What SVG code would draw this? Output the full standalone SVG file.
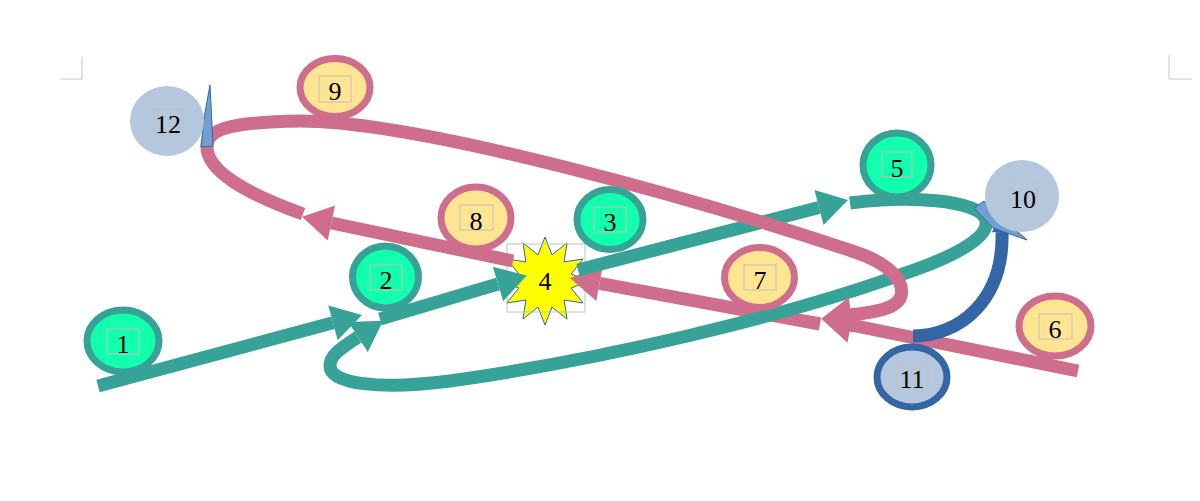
<svg xmlns="http://www.w3.org/2000/svg" width="1200" height="501" viewBox="0 0 1200 501">
<style>
.corner{fill:none;stroke:#c6c6c6;stroke-width:1}
.gn{fill:#12ffae;stroke:#37a398;stroke-width:7}
.yn{fill:#ffe591;stroke:#cf6e8c;stroke-width:7}
.bn{fill:#b4c7dc;stroke:#3465a4;stroke-width:7}
.bn0{fill:#b4c7dc;stroke:none}
.lb{fill:none;stroke:#c0c0c0;stroke-width:1}
.tx{font-family:"Liberation Serif","DejaVu Serif",serif;font-size:26px;fill:#000;text-anchor:middle}
.tc{fill:none;stroke:#37a398;stroke-width:13;marker-end:url(#at)}
.pc{fill:none;stroke:#cf6e8c;stroke-width:13;marker-end:url(#ap)}
.bc{fill:none;stroke:#3465a4;stroke-width:13;marker-end:url(#ab)}
.wedge{fill:#729fcf;stroke:#3465a4;stroke-width:1}
</style>
<defs>
<marker id="at" markerUnits="userSpaceOnUse" orient="auto" refX="0" refY="0" markerWidth="40" markerHeight="40" overflow="visible"><path d="M0,-18 L30,0 L0,18 z" fill="#37a398"/></marker>
<marker id="ap" markerUnits="userSpaceOnUse" orient="auto" refX="0" refY="0" markerWidth="40" markerHeight="40" overflow="visible"><path d="M0,-18 L30,0 L0,18 z" fill="#cf6e8c"/></marker>
<marker id="ab" markerUnits="userSpaceOnUse" orient="auto" refX="0" refY="0" markerWidth="30" markerHeight="30" overflow="visible"><path d="M0,-10 L22,0 L0,10 z" fill="#3465a4"/></marker>
</defs>
<rect width="1200" height="501" fill="#fff"/>
<path class="corner" d="M82,57 V79 H60"/>
<path class="corner" d="M1169,55 V79 H1192"/>

<g id="n4">
<polygon points="545,237 552,254.9 567,242.9 564.1,261.9 583.1,259 571.1,274 589,281 571.1,288 583.1,303 564.1,300.1 567,319.1 552,307.1 545,325 538,307.1 523,319.1 525.9,300.1 506.9,303 518.9,288 501,281 518.9,274 506.9,259 525.9,261.9 523,242.9 538,254.9" fill="#ffff00" stroke="#3465a4" stroke-width="1"/>
<rect class="lb" x="507" y="244" width="78" height="68"/>
<text class="tx" x="545" y="290">4</text>
</g>

<g id="connectors">
<path class="pc" d="M1078,371 L851,325"/>
<path class="pc" d="M820,324 L599.5,283.4"/>
<path class="pc" d="M513,261 L331.4,223"/>
<path class="tc" d="M98,386 L333,322.8"/>
<path class="tc" d="M380,319 L498,284"/>
<path class="tc" d="M578,270 L819,207.5"/>
<path class="tc" d="M850,203 C910,195 975,200 985,218 C993,235 960,255 900,275 C780,318 600,360 450,381 C380,390 330,384 330,366 C330,356 338,350 358,337"/>
<path class="pc" d="M303,214 C245,193 205,170 207,145 C208,128 235,122 300,121 C420,121 700,200 855,252 C888,263 905,280 901,296 C897,309 875,312 851,315"/>
<path class="bc" d="M913,336 C960,336 1004,300 1002,232"/>
</g>

<g id="n1"><ellipse class="gn" cx="123" cy="341" rx="36" ry="31"/><rect class="lb" x="107" y="329" width="32" height="25"/><text class="tx" x="123" y="353">1</text></g>
<g id="n2"><ellipse class="gn" cx="385.5" cy="277" rx="33" ry="31"/><rect class="lb" x="370" y="265" width="32" height="25"/><text class="tx" x="386" y="289">2</text></g>
<g id="n3"><ellipse class="gn" cx="610" cy="219.5" rx="33" ry="30"/><rect class="lb" x="594" y="207" width="32" height="25"/><text class="tx" x="610" y="231">3</text></g>
<g id="n5"><ellipse class="gn" cx="897" cy="165" rx="34" ry="32"/><rect class="lb" x="882" y="152" width="30" height="25"/><text class="tx" x="897" y="177">5</text></g>
<g id="n6"><ellipse class="yn" cx="1055" cy="326" rx="36" ry="30"/><rect class="lb" x="1039" y="314" width="33" height="25"/><text class="tx" x="1055" y="338">6</text></g>
<g id="n7"><ellipse class="yn" cx="759.5" cy="277.5" rx="35" ry="30"/><rect class="lb" x="744" y="265" width="32" height="25"/><text class="tx" x="760" y="289">7</text></g>
<g id="n8"><ellipse class="yn" cx="476" cy="218" rx="35" ry="31"/><rect class="lb" x="460" y="205" width="33" height="25"/><text class="tx" x="476" y="230">8</text></g>
<g id="n9"><ellipse class="yn" cx="335" cy="87.5" rx="35" ry="29"/><rect class="lb" x="319" y="76" width="32" height="26"/><text class="tx" x="335" y="100">9</text></g>
<g id="n10"><polygon class="wedge" points="974,208 984,201 1027,240 993,228"/><ellipse class="bn0" cx="1022" cy="196" rx="37" ry="36"/><rect class="lb" x="1009" y="183" width="28" height="25"/><text class="tx" x="1023" y="208">10</text></g>
<g id="n11"><ellipse class="bn" cx="912" cy="377" rx="35" ry="30"/><rect class="lb" x="897" y="364" width="31" height="24"/><text class="tx" x="912" y="388">11</text></g>
<g id="n12"><polygon class="wedge" points="210,85 213,146 201,147 204,118"/><ellipse class="bn0" cx="167" cy="121" rx="37" ry="35"/><rect class="lb" x="154" y="109" width="29" height="25"/><text class="tx" x="168" y="133">12</text></g>
</svg>
